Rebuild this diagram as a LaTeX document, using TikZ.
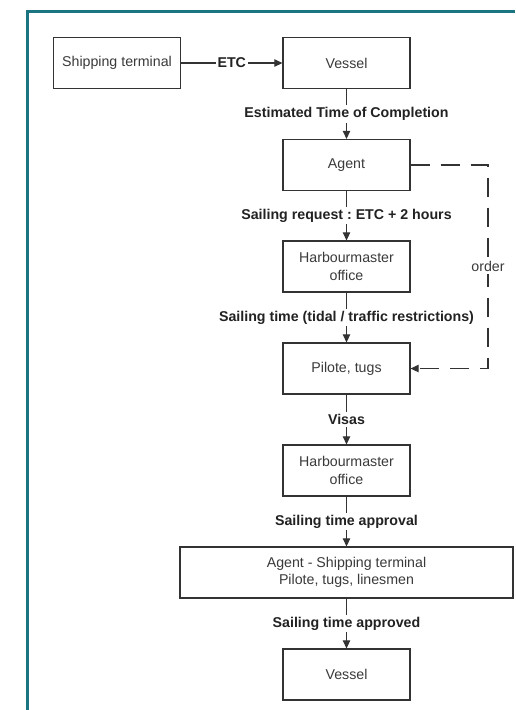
\documentclass[tikz,border=0pt]{standalone}
\usepackage{fontspec}
\setmainfont{Liberation Sans}
\usetikzlibrary{arrows.meta}
\definecolor{frameteal}{HTML}{1A7482}
\definecolor{boxline}{HTML}{333333}
\definecolor{boxtext}{HTML}{3A3A3A}
\definecolor{lbltext}{HTML}{222222}
\begin{document}
\frenchspacing
\begin{tikzpicture}[x=1pt,y=-1pt,
  font=\fontsize{14.2}{17.2}\selectfont,
  box/.style={draw=boxline,line width=1.3pt,minimum width=127pt,minimum height=51pt,
    inner sep=0pt,align=center,text=boxtext,fill=white},
  lbl/.style={fill=white,inner sep=2pt,font=\fontsize{14.2}{17.2}\selectfont\bfseries,text=lbltext},
  conn/.style={draw=boxline,line width=1.2pt,-{Triangle[length=8pt,width=7.5pt]}},
  dashconn/.style={draw=boxline,line width=1.3pt,dash pattern=on 19pt off 11pt,-{Triangle[length=8pt,width=7.5pt]}}]
\useasboundingbox (0,0) rectangle (515,710);
\fill[white] (0,0) rectangle (515,710);
\draw[frameteal,line width=3pt] (27.5,710) -- (27.5,11.5) -- (515,11.5);

\node[box] (st) at (117,63) {Shipping terminal};
\node[box] (v1) at (346.5,63) {Vessel};
\node[box] (ag) at (346.5,165) {Agent};
\node[box] (h1) at (346.5,266.5) {Harbourmaster\\office};
\node[box] (pt) at (346.5,368.5) {Pilote, tugs};
\node[box] (h2) at (346.5,470.5) {Harbourmaster\\office};
\node[box,minimum width=333pt] (as) at (346.5,572.5) {Agent - Shipping terminal\\Pilote, tugs, linesmen};
\node[box] (v2) at (346.5,674.5) {Vessel};

\coordinate (d1) at (488,165);
\coordinate (d2) at (488,368.5);

\draw[conn] (st) -- node[lbl] {ETC} (v1);
\draw[conn] (v1) -- node[lbl] {Estimated Time of Completion} (ag);
\draw[conn] (ag) -- node[lbl] {Sailing request : ETC + 2 hours} (h1);
\draw[conn] (h1) -- node[lbl] {Sailing time (tidal / traffic restrictions)} (pt);
\draw[conn] (pt) -- node[lbl] {Visas} (h2);
\draw[conn] (h2) -- node[lbl] {Sailing time approval} (as);
\draw[conn] (as) -- node[lbl] {Sailing time approved} (v2);

\draw[dashconn] (ag.east) -- (d1) -- node[fill=white,inner sep=2pt,text=boxtext] {order} (d2) -- (pt.east);
\end{tikzpicture}
\end{document}
